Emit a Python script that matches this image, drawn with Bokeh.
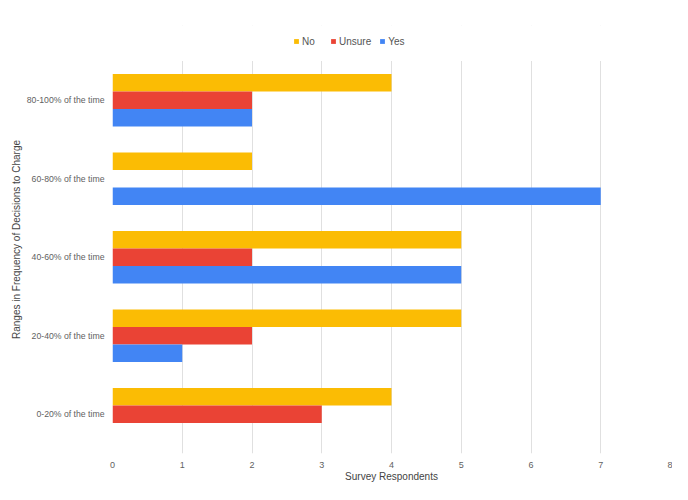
from bokeh.plotting import figure
from bokeh.models import Range1d, Legend, LegendItem, ColumnDataSource, FixedTicker, BoxAnnotation
from bokeh.transform import dodge
from bokeh.embed import file_html
from bokeh.resources import INLINE

categories = ["0-20% of the time", "20-40% of the time", "40-60% of the time",
              "60-80% of the time", "80-100% of the time"]
no_vals = [4, 5, 5, 2, 4]
unsure_vals = [3, 2, 2, 0, 2]
yes_vals = [0, 1, 5, 7, 2]
x_ticks = [0, 1, 2, 3, 4, 5, 6, 7, 8]

c_no = "#FBBC04"
c_unsure = "#EA4335"
c_yes = "#4285F4"
FONT = "Liberation Sans"

n = len(categories)
pos = [i + 0.5 for i in range(n)]
source = ColumnDataSource(data=dict(pos=pos, cat=categories, no=no_vals,
                                    unsure=unsure_vals, yes=yes_vals))

# frame: fig y 25..459 ; categories occupy 0..n (459..61)
F_TOP, CAT_TOP, F_BOT = 25, 61, 459
band_px = (F_BOT - CAT_TOP) / n
top_extra = (CAT_TOP - F_TOP) / band_px

p = figure(width=672, height=484, output_backend="svg", toolbar_location=None,
           y_range=Range1d(0, n + top_extra), x_range=Range1d(0, 8),
           min_border_left=112, min_border_right=2, min_border_top=F_TOP,
           min_border_bottom=484 - F_BOT)
p.outline_line_color = None
p.background_fill_color = "white"
p.border_fill_color = "white"

bh = 0.223
r_no = p.hbar(y=dodge("pos", bh), left=0, right="no", height=bh,
              source=source, fill_color=c_no, line_color=None)
r_un = p.hbar(y=dodge("pos", 0), left=0, right="unsure", height=bh,
              source=source, fill_color=c_unsure, line_color=None)
r_yes = p.hbar(y=dodge("pos", -bh), left=0, right="yes", height=bh,
               source=source, fill_color=c_yes, line_color=None)

p.ygrid.grid_line_color = None
p.xgrid.grid_line_color = "#e0e0e0"
p.xgrid.grid_line_width = 1

# white cover above the category area (legend zone)
p.add_layout(BoxAnnotation(bottom=n, fill_color="white", fill_alpha=1.0, line_color=None))

xa = p.xaxis[0]
xa.ticker = FixedTicker(ticks=x_ticks)
xa.axis_line_color = None
xa.major_tick_line_color = None
xa.minor_tick_line_color = None
xa.major_label_standoff = 2
xa.major_label_text_font = FONT
xa.major_label_text_font_size = "9px"
xa.major_label_text_color = "#5f5f5f"
xa.axis_label = "Survey Respondents"
xa.axis_label_text_font = FONT
xa.axis_label_text_font_size = "10px"
xa.axis_label_text_font_style = "normal"
xa.axis_label_text_color = "#444444"
xa.axis_label_standoff = 0

ya = p.yaxis[0]
ya.ticker = FixedTicker(ticks=pos)
ya.major_label_overrides = {v: c for v, c in zip(pos, categories)}
ya.axis_line_color = None
ya.major_tick_line_color = None
ya.minor_tick_line_color = None
ya.major_label_standoff = 2
ya.major_label_text_font = FONT
ya.major_label_text_font_size = "8.7px"
ya.major_label_text_color = "#5f5f5f"
ya.axis_label = "Ranges in Frequency of Decisions to Charge"
ya.axis_label_text_font = FONT
ya.axis_label_text_font_size = "10px"
ya.axis_label_text_font_style = "normal"
ya.axis_label_text_color = "#444444"
ya.axis_label_standoff = 2

legend = Legend(items=[LegendItem(label="No", renderers=[r_no]),
                       LegendItem(label="Unsure", renderers=[r_un]),
                       LegendItem(label="Yes", renderers=[r_yes])],
                location=(181, 406), orientation="horizontal",
                padding=0, margin=0, spacing=8, glyph_width=6, glyph_height=6,
                label_standoff=3, label_height=12, label_text_font=FONT,
                label_text_font_size="10px", label_text_color="#555555",
                border_line_color=None, background_fill_alpha=0)
p.add_layout(legend)

open("out.html", "w").write(file_html(p, INLINE))
